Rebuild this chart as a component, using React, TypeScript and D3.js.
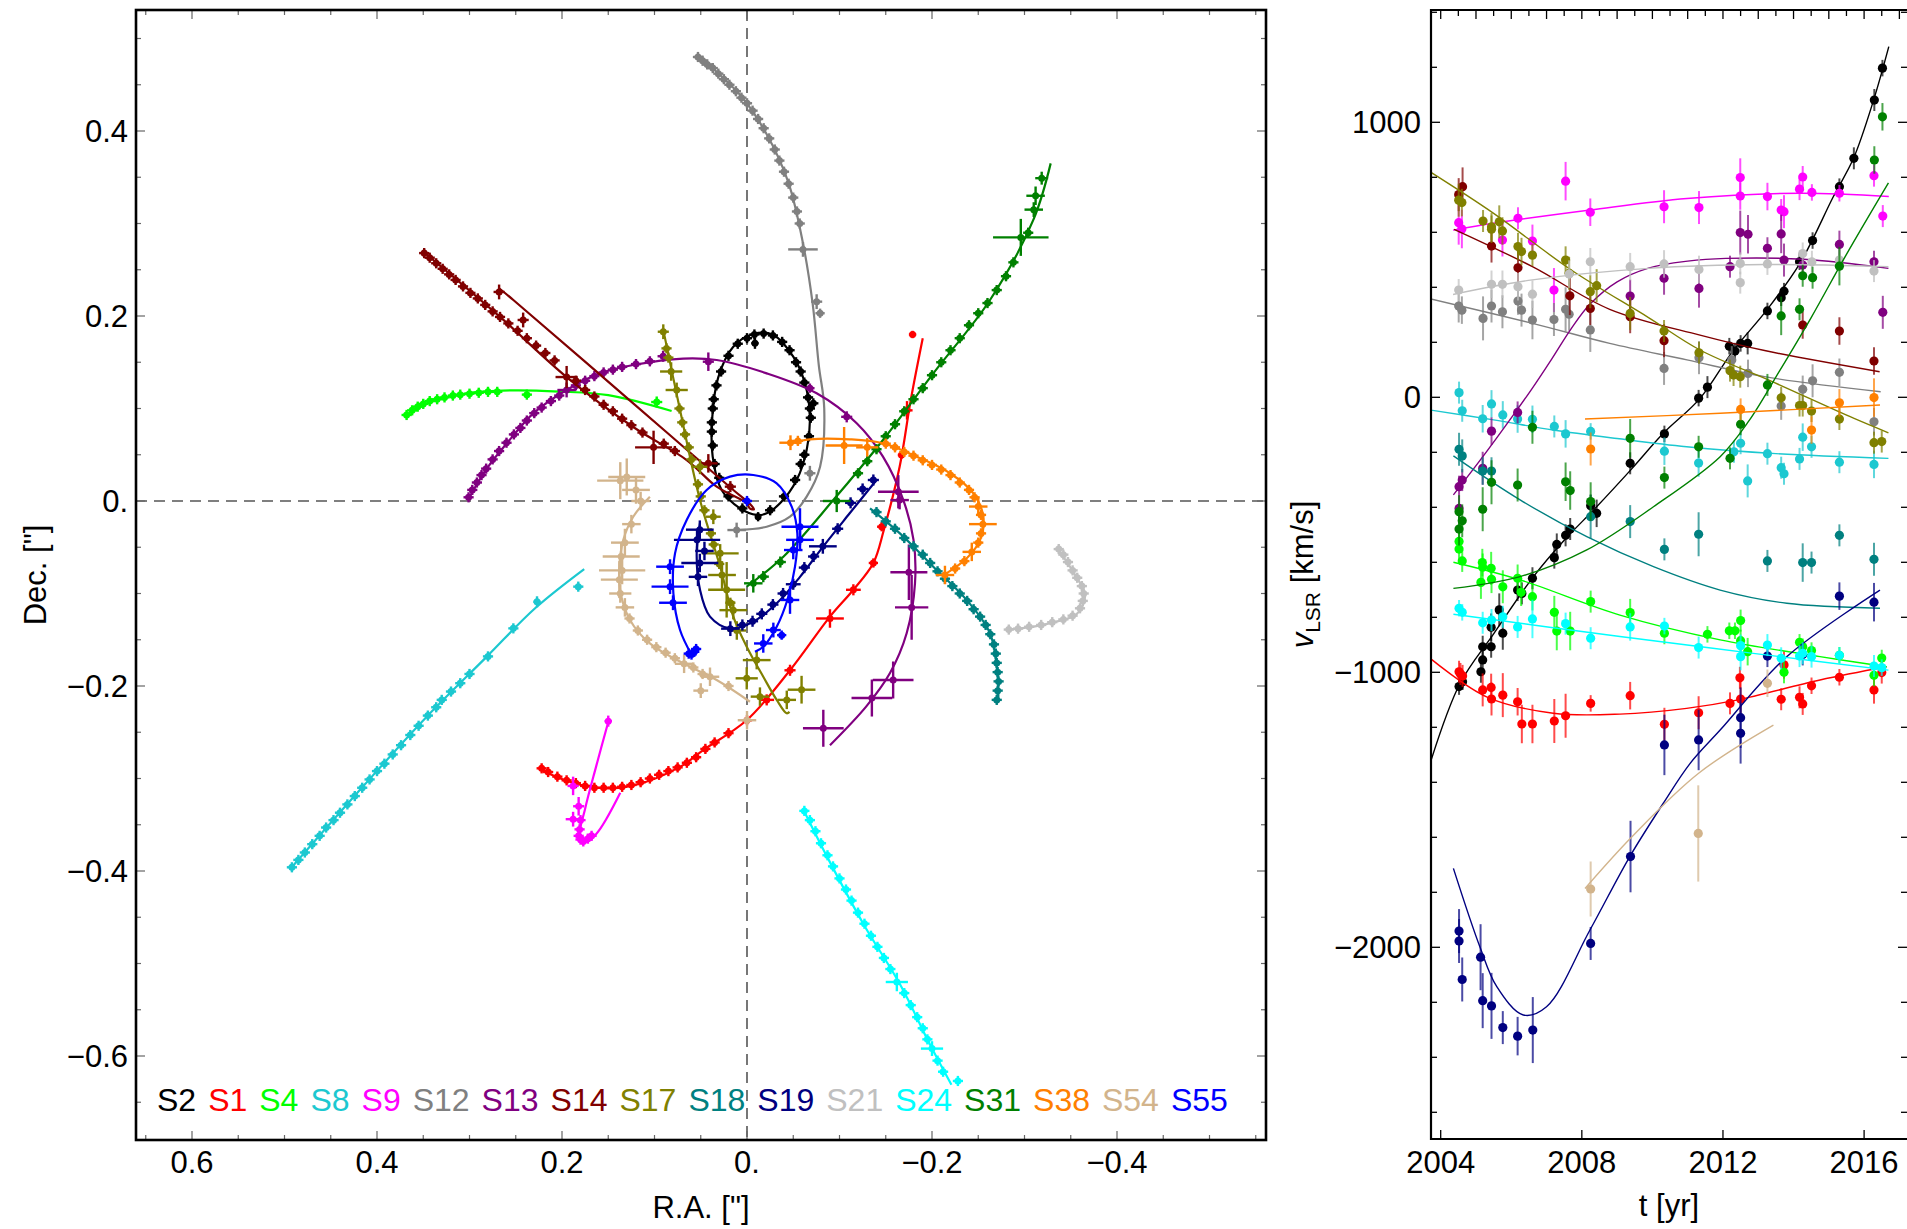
import React from "react"
import * as d3 from "d3"

// ---------- legend / star list ----------
const starNames = ["S2", "S1", "S4", "S8", "S9", "S12", "S13", "S14", "S17", "S18", "S19", "S21", "S24", "S31", "S38", "S54", "S55"]
const starColors = ["#000000", "#ff0000", "#00ff00", "#1cc8d0", "#ff00ff", "#808080", "#800080", "#800000", "#808000", "#008080", "#000080", "#c0c0c0", "#00ffff", "#008000", "#ff8000", "#d2b48c", "#0000ff"]

// ---------- left panel: orbit curves [RA, Dec] in arcsec ----------
const orbitS2 = [[-0.0105, -0.0151], [0.0076, -0.0079], [0.0274, 0.0119], [0.0371, 0.0479], [0.0375, 0.0911], [0.031, 0.134], [0.0148, 0.1668], [-0.0068, 0.1805], [-0.0284, 0.1795], [-0.05, 0.156], [-0.0627, 0.127], [-0.068, 0.091], [-0.0645, 0.055], [-0.0537, 0.0227], [-0.0357, -0.0025], [-0.0213, -0.0133]]
const orbitS1 = [[0.2248, -0.289], [0.2025, -0.2998], [0.163, -0.31], [0.1236, -0.3077], [0.071, -0.2866], [0.047, -0.269], [0.0004, -0.237], [-0.0465, -0.183], [-0.0897, -0.125], [-0.115, -0.096], [-0.1366, -0.067], [-0.148, -0.031], [-0.165, 0.037], [-0.177, 0.109], [-0.19, 0.176]]
const orbitS4 = [[0.3694, 0.092], [0.347, 0.105], [0.3077, 0.1157], [0.255, 0.1196], [0.2025, 0.1183], [0.15, 0.1144], [0.0815, 0.0973]]
const orbitS8 = [[0.4943, -0.3984], [0.4128, -0.306], [0.347, -0.234], [0.281, -0.168], [0.2288, -0.1157], [0.176, -0.0736]]
const orbitS9 = [[0.15, -0.239], [0.163, -0.2866], [0.175, -0.3326], [0.181, -0.363], [0.176, -0.369], [0.163, -0.36], [0.137, -0.3155]]
const orbitS12 = [[0.0539, 0.4825], [0.0316, 0.4628], [0.0053, 0.4365], [-0.021, 0.397], [-0.0447, 0.3445], [-0.0605, 0.2787], [-0.071, 0.213], [-0.0776, 0.147], [-0.0835, 0.1], [-0.079, 0.037], [-0.0645, 0.0047], [-0.0465, -0.017], [-0.0213, -0.0278], [0.0112, -0.0314]]
const orbitS13 = [[0.301, 0.0026], [0.281, 0.0355], [0.255, 0.068], [0.231, 0.0948], [0.195, 0.12], [0.159, 0.138], [0.123, 0.147], [0.0689, 0.154], [0.0328, 0.1524], [-0.0213, 0.138], [-0.0753, 0.1164], [-0.1186, 0.084], [-0.147, 0.0479], [-0.169, 0.001], [-0.18, -0.042], [-0.1816, -0.089], [-0.1726, -0.143], [-0.1546, -0.186], [-0.129, -0.222], [-0.0897, -0.264]]
const orbitS14 = [[0.268, 0.23], [0.2526, 0.2173], [0.123, 0.1056], [0.0148, 0.0119], [-0.004, -0.004], [-0.0075, -0.009], [-0.003, -0.008], [0.0003, -0.0025], [0.0328, 0.0155], [0.0652, 0.0443], [0.123, 0.08], [0.195, 0.134], [0.267, 0.199], [0.3497, 0.2695]]
const orbitS17 = [[0.0905, 0.185], [0.0724, 0.0984], [0.0508, 0.001], [0.029, -0.071], [0.0148, -0.125], [0.0003, -0.1575], [-0.0176, -0.19], [-0.0321, -0.215], [-0.0429, -0.2295], [-0.046, -0.228]]
const orbitS18 = [[-0.133, -0.0079], [-0.165, -0.0347], [-0.2014, -0.071], [-0.2375, -0.107], [-0.2627, -0.143], [-0.271, -0.19], [-0.2717, -0.215]]
const orbitS19 = [[-0.14, 0.0227], [-0.111, -0.0133], [-0.0825, -0.049], [-0.0573, -0.082], [-0.0321, -0.1106], [-0.0068, -0.1305], [0.0184, -0.1377], [0.04, -0.125], [0.0508, -0.096], [0.0544, -0.0566], [0.0508, -0.0241]]
const orbitS21 = [[-0.3366, -0.0526], [-0.3524, -0.0763], [-0.3655, -0.1026], [-0.3563, -0.1223], [-0.33, -0.1315], [-0.3037, -0.1367], [-0.2814, -0.139]]
const orbitS24 = [[-0.0605, -0.3326], [-0.0868, -0.385], [-0.126, -0.4575], [-0.1657, -0.523], [-0.1985, -0.589], [-0.221, -0.631]]
const orbitS31 = [[0.0003, -0.0926], [-0.0393, -0.0602], [-0.0933, 0.001], [-0.147, 0.066], [-0.2014, 0.138], [-0.2627, 0.2173], [-0.31, 0.305], [-0.3283, 0.365]]
const orbitS38 = [[-0.0465, 0.0624], [-0.068, 0.0667], [-0.111, 0.0667], [-0.147, 0.0624], [-0.1835, 0.0479], [-0.2195, 0.03], [-0.2447, 0.0083], [-0.2555, -0.017], [-0.252, -0.042], [-0.2375, -0.062], [-0.216, -0.078]]
const orbitS54 = [[0.105, 0.0047], [0.123, -0.017], [0.1337, -0.042], [0.138, -0.071], [0.1366, -0.0998], [0.1265, -0.1286], [0.105, -0.154], [0.0689, -0.1755], [0.0328, -0.1935], [-0.0032, -0.217]]
const orbitS55 = [[0.0598, -0.1665], [0.0724, -0.1395], [0.0796, -0.0998], [0.0778, -0.0566], [0.0652, -0.0205], [0.0436, 0.0119], [0.0184, 0.0263], [-0.0068, 0.0281], [-0.0321, 0.0191], [-0.0483, -0.006], [-0.0544, -0.035], [-0.0519, -0.071], [-0.0436, -0.107], [-0.0321, -0.1359], [-0.0176, -0.1575], [-0.0086, -0.163]]

// ---------- left panel: astrometric points [RA, Dec, errRA, errDec] ----------
const obsS2 = [[0.037, 0.06], [0.038, 0.075], [0.038, 0.085], [0.037, 0.1], [0.036, 0.11], [0.033, 0.125], [0.028, 0.14], [0.02, 0.157], [0.01, 0.17], [0.0, 0.176], [-0.0086, 0.1705, 0.004, 0.006], [-0.008, 0.18], [-0.018, 0.181], [-0.028, 0.179], [-0.038, 0.172], [-0.046, 0.163], [-0.053, 0.15], [-0.058, 0.14], [-0.062, 0.128], [-0.066, 0.112], [-0.0717, 0.1056], [-0.068, 0.1], [-0.069, 0.09], [-0.067, 0.07], [-0.062, 0.05], [-0.058, 0.04], [-0.052, 0.0227], [-0.04, 0.005], [-0.025, -0.01], [-0.012, -0.017, 0.003, 0.005], [0.005, -0.008], [0.02, 0.005], [0.03, 0.025], [0.035, 0.04]]
const obsS1 = [[0.222, -0.289], [0.215, -0.293], [0.205, -0.298], [0.195, -0.302], [0.185, -0.305], [0.175, -0.308], [0.165, -0.31], [0.155, -0.31], [0.145, -0.31], [0.135, -0.309], [0.125, -0.307], [0.115, -0.304], [0.105, -0.3], [0.095, -0.296], [0.085, -0.292], [0.075, -0.288], [0.065, -0.283], [0.055, -0.277], [0.045, -0.268], [0.035, -0.261], [0.02, -0.251], [0.0, -0.237], [-0.0213, -0.215, 0.008, 0.006], [-0.0465, -0.183, 0.006, 0.006], [-0.0897, -0.127, 0.015, 0.01], [-0.115, -0.096, 0.008, 0.006], [-0.1366, -0.067, 0.005, 0.005], [-0.1456, -0.0278, 0.005, 0.005], [-0.167, 0.0497, 0.004, 0.004], [-0.173, 0.098, 0.006, 0.01], [-0.179, 0.18, 0.004, 0.004]]
const obsS4 = [[0.368, 0.093], [0.362, 0.098], [0.356, 0.102], [0.35, 0.105], [0.343, 0.108], [0.335, 0.11], [0.327, 0.112], [0.318, 0.114], [0.31, 0.115], [0.3, 0.116], [0.29, 0.117], [0.28, 0.118], [0.27, 0.118], [0.238, 0.115], [0.0976, 0.107, 0.006, 0.006]]
const obsS8 = [[0.492, -0.396], [0.485, -0.388], [0.478, -0.38], [0.47, -0.371], [0.462, -0.362], [0.455, -0.353], [0.447, -0.345], [0.44, -0.337], [0.432, -0.328], [0.424, -0.319], [0.416, -0.31], [0.408, -0.301], [0.4, -0.292], [0.392, -0.284], [0.383, -0.274], [0.374, -0.264], [0.364, -0.253], [0.355, -0.243], [0.345, -0.232], [0.336, -0.223], [0.33, -0.215], [0.32, -0.206], [0.31, -0.197], [0.3, -0.187], [0.28, -0.168], [0.2526, -0.1377], [0.227, -0.109, 0.004, 0.006], [0.1824, -0.0926]]
const obsS9 = [[0.15, -0.238, 0.004, 0.006], [0.188, -0.308, 0.006, 0.01], [0.182, -0.33, 0.006, 0.01], [0.18, -0.345], [0.181, -0.355], [0.182, -0.362], [0.18, -0.366], [0.177, -0.368], [0.172, -0.365], [0.168, -0.362], [0.188, -0.344, 0.008, 0.008]]
const obsS12 = [[0.053, 0.48], [0.048, 0.476], [0.043, 0.472], [0.037, 0.468], [0.031, 0.462], [0.025, 0.456], [0.019, 0.45], [0.012, 0.443], [0.006, 0.436], [0.0, 0.43], [-0.006, 0.422], [-0.012, 0.413], [-0.018, 0.403], [-0.024, 0.392], [-0.03, 0.38], [-0.035, 0.368], [-0.04, 0.356], [-0.045, 0.343], [-0.05, 0.328], [-0.054, 0.313], [-0.057, 0.3], [-0.0605, 0.272, 0.016, 0.008], [-0.0753, 0.2155, 0.006, 0.008], [-0.079, 0.203, 0.005, 0.005], [-0.068, 0.03, 0.006, 0.008], [0.0112, -0.0314, 0.01, 0.008]]
const obsS13 = [[0.301, 0.004], [0.297, 0.012], [0.292, 0.02], [0.287, 0.028], [0.282, 0.035], [0.275, 0.045], [0.268, 0.054], [0.26, 0.063], [0.252, 0.072], [0.245, 0.079], [0.238, 0.087], [0.23, 0.095], [0.222, 0.101], [0.212, 0.108], [0.203, 0.114], [0.195, 0.12, 0.01, 0.008], [0.185, 0.125], [0.175, 0.13], [0.165, 0.135], [0.155, 0.139], [0.145, 0.142], [0.135, 0.145], [0.12, 0.148], [0.105, 0.151], [0.0907, 0.1565, 0.006, 0.006], [0.0418, 0.1506, 0.006, 0.01], [-0.068, 0.122, 0.005, 0.005], [-0.1078, 0.091, 0.006, 0.006], [-0.1636, 0.01, 0.022, 0.018], [-0.165, 0.001, 0.01, 0.01], [-0.175, -0.077, 0.02, 0.03], [-0.178, -0.115, 0.018, 0.035], [-0.158, -0.1935, 0.022, 0.02], [-0.135, -0.213, 0.022, 0.02], [-0.0825, -0.2457, 0.022, 0.02]]
const obsS14 = [[0.349, 0.268], [0.343, 0.263], [0.336, 0.257], [0.329, 0.251], [0.322, 0.245], [0.315, 0.239], [0.307, 0.232], [0.299, 0.225], [0.291, 0.219], [0.283, 0.212], [0.275, 0.205], [0.267, 0.199], [0.258, 0.192], [0.248, 0.184], [0.238, 0.176], [0.228, 0.168], [0.218, 0.16], [0.208, 0.152], [0.195, 0.134, 0.012, 0.012], [0.185, 0.13], [0.175, 0.12], [0.165, 0.113], [0.155, 0.104], [0.145, 0.097], [0.135, 0.089], [0.125, 0.082], [0.113, 0.074], [0.101, 0.058, 0.02, 0.018], [0.09, 0.062], [0.078, 0.054], [0.0418, 0.0407, 0.01, 0.01], [0.018, 0.0155, 0.006, 0.006], [0.268, 0.226, 0.006, 0.008], [0.242, 0.1957, 0.006, 0.008]]
const obsS17 = [[0.0905, 0.183, 0.006, 0.008], [0.087, 0.165], [0.085, 0.155], [0.082, 0.14, 0.012, 0.01], [0.076, 0.12, 0.012, 0.008], [0.073, 0.1], [0.07, 0.085], [0.067, 0.072], [0.063, 0.058], [0.06, 0.045], [0.0508, 0.037, 0.008, 0.008], [0.053, 0.018], [0.05, 0.005], [0.046, -0.01], [0.0364, -0.017, 0.008, 0.008], [0.039, -0.035], [0.036, -0.047], [0.029, -0.0566, 0.02, 0.01], [0.03, -0.068], [0.027, -0.08, 0.015, 0.015], [0.022, -0.096, 0.02, 0.03], [0.018, -0.11], [0.0148, -0.118, 0.015, 0.01], [0.011, -0.14, 0.01, 0.01], [-0.0105, -0.172, 0.015, 0.01], [0.0003, -0.1917, 0.012, 0.012], [-0.014, -0.2115, 0.01, 0.01], [-0.059, -0.204, 0.015, 0.015], [-0.043, -0.215, 0.01, 0.01]]
const obsS18 = [[-0.14, -0.012], [-0.15, -0.022], [-0.16, -0.03], [-0.17, -0.04], [-0.18, -0.049], [-0.19, -0.058], [-0.198, -0.067], [-0.206, -0.076], [-0.214, -0.084], [-0.222, -0.092], [-0.23, -0.1], [-0.238, -0.108], [-0.245, -0.117], [-0.252, -0.125], [-0.258, -0.134], [-0.263, -0.144], [-0.267, -0.155], [-0.269, -0.165], [-0.27, -0.175], [-0.271, -0.185], [-0.272, -0.195], [-0.271, -0.205], [-0.27, -0.215]]
const obsS19 = [[-0.1366, 0.0227, 0.006, 0.006], [-0.125, 0.013, 0.006, 0.006], [-0.112, -0.002, 0.006, 0.006], [-0.098, -0.03, 0.006, 0.006], [-0.082, -0.049, 0.015, 0.008], [-0.072, -0.06, 0.006, 0.006], [-0.062, -0.072, 0.006, 0.006], [-0.05, -0.09, 0.008, 0.006], [-0.039, -0.1, 0.006, 0.006], [-0.028, -0.112, 0.006, 0.006], [-0.016, -0.122, 0.006, 0.006], [-0.006, -0.13, 0.006, 0.006], [0.005, -0.134, 0.006, 0.006], [0.018, -0.138, 0.01, 0.008], [0.053, -0.082, 0.01, 0.01], [0.051, -0.067, 0.02, 0.01], [0.054, -0.042, 0.025, 0.012], [0.051, -0.031, 0.015, 0.01], [0.046, -0.054, 0.01, 0.01]]
const obsS21 = [[-0.337, -0.052], [-0.342, -0.058], [-0.347, -0.066], [-0.352, -0.075], [-0.357, -0.083], [-0.362, -0.092], [-0.364, -0.1], [-0.363, -0.108], [-0.36, -0.116], [-0.352, -0.124], [-0.342, -0.128], [-0.33, -0.131], [-0.318, -0.134], [-0.305, -0.136], [-0.293, -0.138], [-0.283, -0.139]]
const obsS24 = [[-0.062, -0.335], [-0.068, -0.345], [-0.074, -0.357], [-0.08, -0.37], [-0.087, -0.383], [-0.093, -0.395], [-0.1, -0.408], [-0.107, -0.42], [-0.113, -0.432], [-0.12, -0.445], [-0.127, -0.457], [-0.134, -0.47], [-0.141, -0.482], [-0.148, -0.494], [-0.155, -0.506], [-0.162, -0.52, 0.012, 0.01], [-0.17, -0.532], [-0.177, -0.545], [-0.184, -0.558], [-0.19, -0.57], [-0.195, -0.582], [-0.2, -0.592, 0.012, 0.008], [-0.206, -0.605], [-0.212, -0.617], [-0.228, -0.627]]
const obsS31 = [[-0.0068, -0.089, 0.01, 0.01], [-0.0176, -0.0818, 0.006, 0.006], [-0.036, -0.066, 0.006, 0.006], [-0.097, 0.0, 0.015, 0.012], [-0.12, 0.03], [-0.13, 0.043], [-0.14, 0.056], [-0.15, 0.07], [-0.16, 0.083], [-0.17, 0.097], [-0.18, 0.11], [-0.19, 0.122], [-0.2, 0.136], [-0.21, 0.15], [-0.22, 0.163], [-0.23, 0.176], [-0.24, 0.19], [-0.25, 0.203], [-0.26, 0.214], [-0.27, 0.228], [-0.28, 0.243], [-0.288, 0.258], [-0.296, 0.285, 0.03, 0.02], [-0.304, 0.29], [-0.31, 0.315, 0.01, 0.008], [-0.312, 0.33, 0.01, 0.01], [-0.3186, 0.349, 0.007, 0.007]]
const obsS38 = [[-0.047, 0.063, 0.012, 0.008], [-0.055, 0.065], [-0.105, 0.06, 0.02, 0.02], [-0.13, 0.058, 0.012, 0.01], [-0.15, 0.062], [-0.16, 0.058], [-0.17, 0.053], [-0.18, 0.049], [-0.19, 0.044], [-0.2, 0.039], [-0.21, 0.034], [-0.22, 0.028], [-0.23, 0.02], [-0.24, 0.012], [-0.246, 0.004], [-0.25, -0.006, 0.01, 0.01], [-0.253, -0.015], [-0.255, -0.025, 0.015, 0.01], [-0.253, -0.035], [-0.25, -0.045], [-0.243, -0.055, 0.01, 0.01], [-0.235, -0.065], [-0.225, -0.073], [-0.214, -0.08, 0.01, 0.01]]
const obsS54 = [[0.137, 0.022, 0.025, 0.02], [0.13, 0.026, 0.02, 0.02], [0.12, 0.012, 0.015, 0.015], [0.115, 0.0, 0.01, 0.01], [0.125, -0.025, 0.01, 0.01], [0.132, -0.045, 0.015, 0.015], [0.136, -0.06, 0.02, 0.015], [0.135, -0.075, 0.025, 0.015], [0.138, -0.085, 0.02, 0.02], [0.137, -0.1, 0.012, 0.01], [0.132, -0.115, 0.01, 0.01], [0.127, -0.127], [0.118, -0.14], [0.108, -0.15], [0.098, -0.158], [0.088, -0.164], [0.078, -0.17], [0.068, -0.176, 0.01, 0.01], [0.058, -0.18], [0.048, -0.187], [0.04, -0.19, 0.01, 0.01], [0.02, -0.2], [0.05, -0.205, 0.008, 0.008], [0.0, -0.237, 0.01, 0.01]]
const obsS55 = [[0.06, -0.166], [0.057, -0.163], [0.063, -0.165], [0.055, -0.16], [0.0832, -0.071, 0.015, 0.008], [0.0832, -0.0926, 0.02, 0.008], [0.08, -0.11, 0.015, 0.008], [-0.0573, -0.0278, 0.02, 0.02], [-0.0573, -0.042, 0.015, 0.012], [-0.05, -0.053, 0.01, 0.01], [-0.0465, -0.107, 0.01, 0.015], [-0.0285, -0.1395, 0.008, 0.008], [-0.0375, -0.145, 0.005, 0.005], [-0.0176, -0.154, 0.01, 0.01], [0.0, 0.0]]

// ---------- right panel: radial velocities [t, v, err] ----------
const rvS2 = [[2004.52, -1052, 30], [2004.62, -1034, 30], [2005.14, -998, 40], [2005.19, -955, 40], [2005.19, -907, 40], [2005.43, -907, 40], [2005.43, -836, 50], [2005.66, -773, 60], [2005.76, -858, 60], [2006.18, -701, 40], [2006.3, -713, 40], [2006.6, -658, 40], [2007.22, -583, 40], [2007.29, -535, 40], [2007.54, -502, 40], [2007.67, -479, 40], [2008.25, -394, 40], [2008.42, -422, 50], [2009.37, -240, 40], [2010.34, -133, 30], [2011.31, -3, 30], [2011.56, 37, 40], [2012.18, 186, 30], [2012.34, 168, 30], [2012.5, 196, 30], [2012.7, 196, 40], [2013.26, 314, 30], [2013.65, 362, 30], [2013.73, 386, 30], [2014.17, 493, 30], [2014.54, 570, 30], [2015.3, 766, 30], [2015.71, 869, 40], [2016.29, 1081, 40], [2016.52, 1197, 30]]
const rvS1 = [[2004.52, -998, 40], [2004.56, -1006, 40], [2004.62, -1013, 40], [2005.19, -1064, 60], [2005.43, -1055, 50], [2005.44, -1097, 60], [2005.76, -1083, 80], [2006.18, -1107, 50], [2006.3, -1188, 70], [2006.6, -1188, 70], [2007.22, -1177, 80], [2007.54, -1158, 80], [2008.25, -1113, 30], [2009.37, -1085, 50], [2010.34, -1189, 60], [2011.31, -1147, 60], [2012.2, -1113, 40], [2012.48, -1020, 40], [2012.5, -1097, 80], [2013.65, -1098, 40], [2013.73, -973, 50], [2014.17, -1091, 40], [2014.26, -1115, 40], [2014.51, -1049, 30], [2015.3, -1018, 30], [2016.28, -1064, 50], [2016.5, -1001, 40]]
const rvS4 = [[2004.52, -524, 40], [2004.52, -552, 40], [2004.61, -595, 40], [2005.18, -601, 50], [2005.19, -618, 50], [2005.14, -673, 60], [2005.43, -622, 60], [2005.44, -662, 50], [2005.76, -689, 60], [2006.18, -658, 50], [2006.28, -709, 50], [2006.6, -725, 50], [2007.22, -782, 60], [2007.29, -850, 70], [2007.67, -850, 70], [2008.25, -743, 40], [2009.37, -783, 50], [2010.34, -858, 40], [2011.56, -862, 30], [2012.18, -849, 30], [2012.34, -849, 30], [2012.5, -812, 40], [2012.5, -885, 40], [2012.7, -925, 50], [2013.73, -1000, 40], [2014.17, -891, 30], [2014.26, -907, 30], [2014.51, -921, 30], [2015.3, -938, 30], [2016.28, -1011, 40], [2016.5, -948, 30]]
const rvS8 = [[2004.52, 17, 40], [2004.61, -49, 40], [2005.19, -78, 50], [2005.44, -24, 50], [2005.76, -64, 50], [2006.18, -79, 50], [2006.6, -80, 50], [2007.22, -106, 40], [2007.54, -133, 50], [2008.25, -124, 30], [2010.34, -196, 50], [2011.31, -239, 50], [2012.31, -198, 40], [2012.5, -167, 40], [2012.7, -304, 60], [2013.26, -205, 40], [2013.65, -256, 40], [2013.73, -278, 40], [2014.17, -224, 40], [2014.26, -145, 50], [2014.51, -180, 40], [2015.3, -236, 40], [2016.28, -244, 50]]
const rvS9 = [[2004.51, 635, 80], [2004.6, 612, 70], [2005.75, 572, 60], [2006.19, 651, 40], [2006.6, 568, 60], [2007.21, 390, 80], [2007.54, 786, 70], [2008.24, 673, 50], [2010.33, 693, 60], [2011.32, 690, 60], [2012.49, 799, 70], [2012.49, 732, 50], [2013.26, 730, 50], [2013.65, 681, 40], [2013.73, 675, 60], [2014.17, 757, 40], [2014.26, 801, 40], [2014.52, 745, 30], [2015.3, 742, 30], [2016.28, 806, 40], [2016.53, 659, 40]]
const rvS12 = [[2004.51, 332, 60], [2004.6, 317, 50], [2005.2, 287, 80], [2005.44, 332, 60], [2005.75, 311, 60], [2006.19, 350, 50], [2006.29, 317, 60], [2006.6, 281, 70], [2007.21, 283, 60], [2007.54, 320, 80], [2007.64, 302, 60], [2008.24, 245, 80], [2010.33, 105, 60], [2011.32, 144, 60], [2012.25, 136, 50], [2012.71, 87, 50], [2013.65, -32, 50], [2014.26, 29, 50], [2014.54, 60, 60], [2015.3, 91, 50], [2016.28, -89, 50]]
const rvS13 = [[2004.52, -404, 40], [2004.52, -325, 40], [2004.61, -301, 40], [2005.19, -258, 60], [2005.44, -123, 50], [2006.18, -55, 40], [2009.37, 368, 60], [2010.33, 433, 60], [2011.32, 396, 70], [2012.2, 475, 40], [2012.49, 599, 80], [2012.71, 593, 70], [2013.26, 542, 40], [2013.65, 594, 70], [2013.73, 499, 60], [2014.26, 481, 40], [2015.3, 556, 50], [2016.28, 493, 40], [2016.53, 309, 60]]
const rvS14 = [[2004.51, 737, 60], [2004.62, 766, 70], [2005.44, 550, 60], [2006.19, 471, 60], [2007.66, 369, 70], [2008.24, 323, 60], [2009.37, 293, 60], [2010.33, 206, 60], [2014.26, 263, 50], [2015.3, 241, 50], [2016.28, 132, 50]]
const rvS17 = [[2004.51, 717, 60], [2004.6, 708, 50], [2005.2, 641, 40], [2005.44, 611, 50], [2005.44, 620, 50], [2005.66, 638, 60], [2005.75, 605, 50], [2006.19, 548, 50], [2006.29, 530, 50], [2006.6, 517, 40], [2007.54, 499, 50], [2007.64, 451, 60], [2008.24, 384, 60], [2008.42, 406, 60], [2009.37, 305, 60], [2010.33, 241, 40], [2011.32, 162, 40], [2012.2, 97, 40], [2012.3, 81, 40], [2012.49, 75, 40], [2013.65, -2, 40], [2014.17, -30, 40], [2014.26, -30, 40], [2014.51, -50, 40], [2015.3, -79, 40], [2016.28, -165, 40], [2016.5, -161, 40]]
const rvS18 = [[2004.52, -189, 60], [2004.61, -213, 60], [2005.19, -268, 50], [2005.44, -268, 50], [2008.25, -434, 80], [2009.37, -452, 60], [2010.34, -553, 40], [2011.31, -498, 80], [2013.26, -595, 40], [2014.26, -601, 70], [2014.51, -601, 40], [2015.3, -502, 40], [2016.28, -589, 60]]
const rvS19 = [[2004.52, -1941, 80], [2004.52, -1977, 80], [2004.61, -2117, 80], [2005.13, -2036, 120], [2005.19, -2194, 100], [2005.44, -2213, 120], [2005.76, -2292, 60], [2006.18, -2323, 70], [2006.61, -2301, 120], [2008.25, -1986, 60], [2009.38, -1670, 130], [2010.34, -1264, 110], [2011.31, -1246, 110], [2012.5, -1165, 110], [2012.5, -1222, 110], [2013.26, -941, 40], [2014.26, -935, 40], [2015.3, -723, 50], [2016.28, -745, 70]]
const rvS21 = [[2004.51, 390, 40], [2005.44, 411, 50], [2005.75, 411, 50], [2006.19, 402, 50], [2006.6, 375, 50], [2007.64, 448, 50], [2008.24, 493, 50], [2009.37, 475, 50], [2010.33, 485, 50], [2011.32, 465, 50], [2012.49, 487, 40], [2012.49, 417, 40], [2013.26, 485, 40], [2014.26, 523, 40], [2014.52, 493, 40], [2015.3, 499, 40], [2016.28, 459, 40]]
const rvS24 = [[2004.52, -767, 30], [2004.61, -782, 30], [2005.19, -820, 40], [2005.44, -810, 40], [2005.76, -798, 40], [2006.18, -835, 40], [2006.6, -806, 70], [2007.54, -823, 40], [2008.25, -876, 40], [2009.37, -835, 50], [2010.34, -832, 30], [2011.31, -910, 40], [2012.5, -903, 40], [2012.5, -943, 50], [2013.26, -901, 40], [2013.65, -949, 40], [2014.17, -941, 40], [2014.26, -931, 40], [2014.51, -943, 40], [2015.3, -938, 30], [2016.28, -977, 40], [2016.5, -983, 30]]
const rvS31 = [[2004.52, -416, 60], [2004.52, -479, 60], [2004.61, -449, 60], [2005.19, -407, 80], [2005.44, -309, 80], [2006.18, -319, 60], [2006.6, -109, 60], [2007.54, -307, 70], [2007.67, -339, 70], [2008.25, -379, 70], [2009.37, -149, 70], [2010.34, -292, 40], [2011.31, -180, 40], [2012.2, -222, 40], [2012.5, -98, 40], [2013.26, 45, 40], [2013.65, 296, 70], [2014.17, 320, 40], [2014.26, 442, 40], [2014.54, 435, 40], [2015.3, 477, 70], [2016.29, 863, 50], [2016.52, 1020, 50]]
const rvS38 = [[2008.25, -188, 60], [2012.5, -44, 40], [2014.51, -119, 50], [2015.3, -20, 50], [2016.28, -1, 70]]
const rvS54 = [[2008.25, -1788, 100], [2011.3, -1586, 175], [2013.26, -1040, 50]]

// ---------- right panel: model curves [t, v] ----------
const fitS2 = [[2003.7, -1331], [2004.55, -1040], [2005.5, -860], [2006.63, -652], [2007.5, -520], [2008.42, -398], [2009.4, -262], [2010.31, -131], [2011.35, -4], [2012.29, 170], [2013.24, 317], [2014.18, 487], [2015.13, 730], [2015.7, 869], [2016.27, 1081], [2016.7, 1275]]
const fitS1 = [[2003.7, -949], [2005.3, -1089], [2007.19, -1149], [2009.08, -1152], [2010.97, -1131], [2012.39, -1101], [2014.75, -1028], [2016.64, -980]]
const fitS4 = [[2004.36, -600], [2006.25, -664], [2009.08, -792], [2011.92, -882], [2014.75, -943], [2016.64, -980]]
const fitS8 = [[2003.7, -46], [2005.5, -82], [2007.19, -119], [2009.0, -150], [2010.97, -180], [2013.5, -205], [2016.69, -222]]
const fitS9 = [[2004.35, 608], [2005.5, 633], [2008.24, 681], [2010.98, 723], [2014.18, 742], [2016.7, 730]]
const fitS12 = [[2003.7, 358], [2006.6, 269], [2008.79, 196], [2010.98, 136], [2013.18, 75], [2016.47, 20]]
const fitS13 = [[2004.36, -355], [2005.2, -215], [2006.0, -75], [2006.58, 30], [2007.15, 140], [2007.7, 250], [2008.24, 340], [2009.0, 420], [2009.89, 470], [2011.0, 495], [2012.08, 505], [2014.28, 502], [2016.69, 469]]
const fitS14 = [[2004.38, 611], [2006.6, 475], [2008.79, 320], [2011.35, 226], [2013.18, 170], [2016.44, 93]]
const fitS17 = [[2003.7, 820], [2005.5, 669], [2007.7, 463], [2009.89, 290], [2011.35, 172], [2013.43, 55], [2015.7, -76], [2016.69, -129]]
const fitS18 = [[2004.36, -213], [2006.25, -373], [2008.14, -507], [2010.03, -616], [2011.92, -701], [2013.81, -749], [2016.45, -767]]
const fitS19 = [[2004.36, -1713], [2005.11, -1998], [2005.59, -2143], [2006.34, -2246], [2007.0, -2216], [2008.23, -1937], [2009.36, -1670], [2010.31, -1476], [2011.07, -1331], [2011.92, -1210], [2013.81, -943], [2016.45, -701]]
const fitS21 = [[2004.35, 374], [2006.6, 427], [2009.89, 469], [2013.18, 483], [2016.69, 475]]
const fitS24 = [[2004.36, -789], [2009.08, -870], [2012.86, -931], [2016.69, -992]]
const fitS31 = [[2004.36, -695], [2006.25, -652], [2008.14, -555], [2010.03, -398], [2011.92, -216], [2012.75, -83], [2013.6, 95], [2014.5, 290], [2015.5, 520], [2016.69, 780]]
const fitS38 = [[2008.09, -79], [2011.92, -58], [2016.45, -28]]
const fitS54 = [[2008.09, -1786], [2009.42, -1598], [2011.31, -1367], [2013.43, -1192]]

const orbits = { S2: orbitS2, S1: orbitS1, S4: orbitS4, S8: orbitS8, S9: orbitS9, S12: orbitS12, S13: orbitS13, S14: orbitS14, S17: orbitS17, S18: orbitS18, S19: orbitS19, S21: orbitS21, S24: orbitS24, S31: orbitS31, S38: orbitS38, S54: orbitS54, S55: orbitS55 }
const observations = { S2: obsS2, S1: obsS1, S4: obsS4, S8: obsS8, S9: obsS9, S12: obsS12, S13: obsS13, S14: obsS14, S17: obsS17, S18: obsS18, S19: obsS19, S21: obsS21, S24: obsS24, S31: obsS31, S38: obsS38, S54: obsS54, S55: obsS55 }
const velocities = { S2: rvS2, S1: rvS1, S4: rvS4, S8: rvS8, S9: rvS9, S12: rvS12, S13: rvS13, S14: rvS14, S17: rvS17, S18: rvS18, S19: rvS19, S21: rvS21, S24: rvS24, S31: rvS31, S38: rvS38, S54: rvS54 }
const fits = { S2: fitS2, S1: fitS1, S4: fitS4, S8: fitS8, S9: fitS9, S12: fitS12, S13: fitS13, S14: fitS14, S17: fitS17, S18: fitS18, S19: fitS19, S21: fitS21, S24: fitS24, S31: fitS31, S38: fitS38, S54: fitS54 }

const raTickLabels = [0.6, 0.4, 0.2, 0, -0.2, -0.4]
const decTickLabels = [0.4, 0.2, 0, -0.2, -0.4, -0.6]
const yearTickLabels = [2004, 2008, 2012, 2016]
const vTickLabels = [1000, 0, -1000, -2000]

const FONT = "'Liberation Sans', Arial, Helvetica, sans-serif"
const MINUS = "\u2212"
const DENSE_ERR = 0.0055 // typical error of the dense astrometric points

const fmtArc = (v) => {
  const r = Math.round(v * 10) / 10
  if (r === 0) return "0."
  return (r < 0 ? MINUS : "") + Math.abs(r).toFixed(1)
}
const fmtV = (v) => (v < 0 ? MINUS : "") + Math.abs(v)

const App = () => {
  // left panel frame
  const L = { x0: 136, x1: 1266, y0: 10, y1: 1140 }
  // right panel frame (right edge falls just outside the picture)
  const R = { x0: 1431, x1: 1908, y0: 10, y1: 1139 }

  const xRA = d3.scaleLinear().domain([0.6, -0.4]).range([192, 1117])
  const yDec = d3.scaleLinear().domain([0.4, -0.6]).range([131, 1056])
  const xT = d3.scaleLinear().domain([2004, 2016]).range([1440.7, 1864.1])
  const yV = d3.scaleLinear().domain([1000, -2000]).range([122.3, 947.3])

  const orbitLine = d3.line().x((d) => xRA(d[0])).y((d) => yDec(d[1])).curve(d3.curveCatmullRom.alpha(0.5))
  const orbitClosed = d3.line().x((d) => xRA(d[0])).y((d) => yDec(d[1])).curve(d3.curveCatmullRomClosed.alpha(0.5))
  const fitLine = d3.line().x((d) => xT(d[0])).y((d) => yV(d[1])).curve(d3.curveCatmullRom.alpha(0.5))

  const raMinor = d3.range(-11, 14).map((k) => k * 0.05)
  const decMinor = d3.range(-13, 11).map((k) => k * 0.05)
  const halfYears = d3.range(0, 27).map((k) => 2004 + k * 0.5)
  const vMinor = d3.range(-13, 8).map((k) => k * 200)

  const isMajor = (v) => Math.abs(v / 0.2 - Math.round(v / 0.2)) < 1e-6

  // legend layout: label widths estimated from glyph widths
  const legendSize = 32
  let lx = 157
  const legendX = starNames.map((s) => {
    const x = lx
    lx += legendSize * (0.667 + 0.556 * (s.length - 1)) + 12
    return x
  })

  return (
    <svg width={1907} height={1229} style={{ position: "fixed", left: 0, top: 0, background: "#fff" }} fontFamily={FONT}>
      <defs>
        <clipPath id="clipL"><rect x={L.x0} y={L.y0} width={L.x1 - L.x0} height={L.y1 - L.y0} /></clipPath>
        <clipPath id="clipR"><rect x={R.x0} y={R.y0} width={R.x1 - R.x0} height={R.y1 - R.y0} /></clipPath>
      </defs>
      <rect width={1907} height={1229} fill="#fff" />

      {/* ---------------- left panel ---------------- */}
      <g clipPath="url(#clipL)">
        <line x1={xRA(0)} x2={xRA(0)} y1={L.y0} y2={L.y1} stroke="#555" strokeWidth={1.6} strokeDasharray="11,7" />
        <line x1={L.x0} x2={L.x1} y1={yDec(0)} y2={yDec(0)} stroke="#555" strokeWidth={1.6} strokeDasharray="11,7" />
        {starNames.map((s, si) => {
          const c = starColors[si]
          const orb = orbits[s]
          return (
            <g key={s}>
              <path d={s === "S2" ? orbitClosed(orb) : orbitLine(orb)} fill="none" stroke={c} strokeWidth={2.2} />
              {observations[s].map((o, i) => {
                const ra = o[0], dec = o[1]
                const ex = o.length > 2 ? o[2] : DENSE_ERR
                const ey = o.length > 3 ? o[3] : DENSE_ERR
                return (
                  <g key={i} stroke={c} strokeWidth={2.4}>
                    <line x1={xRA(ra + ex)} x2={xRA(ra - ex)} y1={yDec(dec)} y2={yDec(dec)} />
                    <line x1={xRA(ra)} x2={xRA(ra)} y1={yDec(dec + ey)} y2={yDec(dec - ey)} />
                    <circle cx={xRA(ra)} cy={yDec(dec)} r={3.5} fill={c} stroke="none" />
                  </g>
                )
              })}
            </g>
          )
        })}
      </g>

      {/* left panel ticks */}
      <g stroke="#666" strokeWidth={1.2}>
        {raMinor.filter((v) => xRA(v) > L.x0 + 2 && xRA(v) < L.x1 - 2).map((v, i) => {
          const len = isMajor(v) ? 9 : 5
          return (
            <g key={"rx" + i}>
              <line x1={xRA(v)} x2={xRA(v)} y1={L.y1} y2={L.y1 - len} />
              <line x1={xRA(v)} x2={xRA(v)} y1={L.y0} y2={L.y0 + len} />
            </g>
          )
        })}
        {decMinor.filter((v) => yDec(v) > L.y0 + 2 && yDec(v) < L.y1 - 2).map((v, i) => {
          const len = isMajor(v) ? 9 : 5
          return (
            <g key={"dy" + i}>
              <line x1={L.x0} x2={L.x0 + len} y1={yDec(v)} y2={yDec(v)} />
              <line x1={L.x1} x2={L.x1 - len} y1={yDec(v)} y2={yDec(v)} />
            </g>
          )
        })}
      </g>
      <rect x={L.x0} y={L.y0} width={L.x1 - L.x0} height={L.y1 - L.y0} fill="none" stroke="#000" strokeWidth={2.6} />

      <g fontSize={31} fill="#000">
        {raTickLabels.map((v) => (
          <text key={"rl" + v} x={xRA(v)} y={1173} textAnchor="middle">{fmtArc(v)}</text>
        ))}
        {decTickLabels.map((v) => (
          <text key={"dl" + v} x={128} y={yDec(v)} dy="0.35em" textAnchor="end">{fmtArc(v)}</text>
        ))}
        <text x={(L.x0 + L.x1) / 2} y={1218} textAnchor="middle">R.A. ["]</text>
        <text transform={`translate(46,${(L.y0 + L.y1) / 2}) rotate(-90)`} textAnchor="middle">Dec. ["]</text>
      </g>

      {/* legend */}
      <g fontSize={legendSize}>
        {starNames.map((s, i) => (
          <text key={"lg" + s} x={legendX[i]} y={1111} fill={starColors[i]}>{s}</text>
        ))}
      </g>

      {/* ---------------- right panel ---------------- */}
      <g clipPath="url(#clipR)">
        {starNames.filter((s) => fits[s]).map((s) => {
          const c = starColors[starNames.indexOf(s)]
          return (
            <g key={"rv" + s}>
              <path d={fitLine(fits[s])} fill="none" stroke={c} strokeWidth={1.4} />
              {velocities[s].map((p, i) => (
                <g key={i}>
                  <line x1={xT(p[0])} x2={xT(p[0])} y1={yV(p[1] + p[2])} y2={yV(p[1] - p[2])} stroke={c} strokeWidth={2} opacity={0.7} />
                  <circle cx={xT(p[0])} cy={yV(p[1])} r={4.6} fill={c} />
                </g>
              ))}
            </g>
          )
        })}
      </g>

      {/* right panel ticks */}
      <g stroke="#000" strokeWidth={1.3}>
        {halfYears.map((t) => (
          <line key={"ht" + t} x1={xT(t)} x2={xT(t)} y1={R.y0} y2={R.y0 + (Number.isInteger(t) ? 9 : 6)} />
        ))}
        {yearTickLabels.map((t) => (
          <line key={"yt" + t} x1={xT(t)} x2={xT(t)} y1={R.y1} y2={R.y1 - 9} />
        ))}
        {vMinor.map((v) => (
          <g key={"vt" + v}>
            <line x1={R.x0} x2={R.x0 + (v % 1000 === 0 ? 9 : 6)} y1={yV(v)} y2={yV(v)} />
            <line x1={1907} x2={1907 - (v % 1000 === 0 ? 9 : 6)} y1={yV(v)} y2={yV(v)} />
          </g>
        ))}
      </g>
      <path d={`M${R.x1},${R.y0}H${R.x0}V${R.y1}H${R.x1}`} fill="none" stroke="#000" strokeWidth={2.2} />

      <g fontSize={31} fill="#000">
        {yearTickLabels.map((t) => (
          <text key={"yl" + t} x={xT(t)} y={1173} textAnchor="middle">{t}</text>
        ))}
        {vTickLabels.map((v) => (
          <text key={"vl" + v} x={1421} y={yV(v)} dy="0.35em" textAnchor="end">{fmtV(v)}</text>
        ))}
        <text x={(R.x0 + 1907) / 2} y={1216} textAnchor="middle">t [yr]</text>
        <text transform={`translate(1313,${(R.y0 + R.y1) / 2}) rotate(-90)`} textAnchor="middle">
          <tspan fontStyle="italic">v</tspan>
          <tspan fontSize={21} dy={7}>LSR</tspan>
          <tspan dy={-7}> [km/s]</tspan>
        </text>
      </g>
    </svg>
  )
}

export default App
